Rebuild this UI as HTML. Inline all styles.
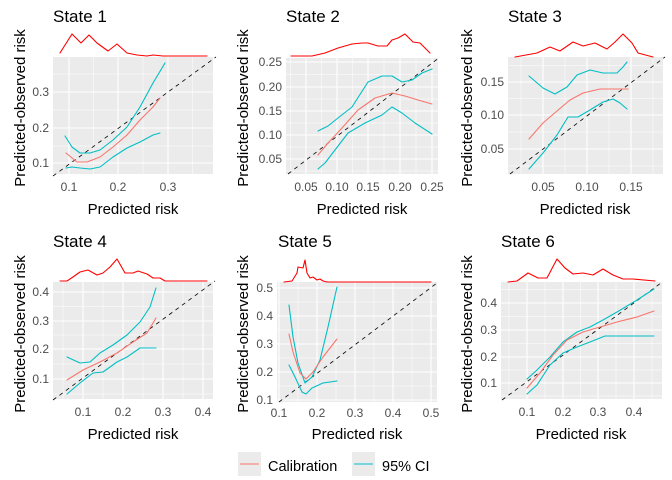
<!DOCTYPE html>
<html><head><meta charset="utf-8"><style>
body{margin:0;background:#fff}
svg{display:block;font-family:"Liberation Sans",sans-serif}
.bg{fill:#EBEBEB}
.mj{stroke:#fff;stroke-width:1.1}
.mn{stroke:#fff;stroke-width:0.5}
.tk{fill:#4D4D4D;font-size:12px}
.ty{fill:#4D4D4D;font-size:12px;text-anchor:end}
.tt{font-size:17px;fill:#000}
.ax{font-size:15px;fill:#000;text-anchor:middle}
polyline{stroke-linejoin:round;stroke-linecap:round}
.dn{fill:none;stroke:#FF0000;stroke-width:1.1}
.ci{fill:none;stroke:#00BFC4;stroke-width:1.1}
.ca{fill:none;stroke:#F8766D;stroke-width:1.1}
.dg{stroke:#000;stroke-width:0.8;stroke-dasharray:4,4}
</style></head><body>
<svg width="672" height="480" viewBox="0 0 672 480">
<!-- Panel 1 -->
<rect class="bg" x="53" y="57" width="160" height="117"/>
<g class="mn"><line x1="93.5" y1="57" x2="93.5" y2="174"/><line x1="143" y1="57" x2="143" y2="174"/><line x1="192.5" y1="57" x2="192.5" y2="174"/><line x1="53" y1="74" x2="213" y2="74"/><line x1="53" y1="110" x2="213" y2="110"/><line x1="53" y1="146" x2="213" y2="146"/></g>
<g class="mj"><line x1="69" y1="57" x2="69" y2="174"/><line x1="118" y1="57" x2="118" y2="174"/><line x1="168" y1="57" x2="168" y2="174"/><line x1="53" y1="92" x2="213" y2="92"/><line x1="53" y1="128" x2="213" y2="128"/><line x1="53" y1="163" x2="213" y2="163"/></g>
<line class="dg" x1="53" y1="176" x2="216" y2="57"/>
<polyline class="dn" points="60,53 72,34 81,43 89,35 97,43 108,51 117,44 127,53 137,55 147,56 153,55 163,56 207,56"/>
<polyline class="ci" points="65,136 72,147 80,153 90,153 100,150 113,140 127,127 140,107 153,83 165,63"/>
<polyline class="ca" points="66,153 77,162 87,162 100,157 113,147 127,135 140,120 153,107 160,98"/>
<polyline class="ci" points="66,168 72,167 80,168 90,169 100,167 113,157 127,148 140,142 153,135 160,133"/>
<g class="tk" text-anchor="middle"><text x="69" y="191">0.1</text><text x="118" y="191">0.2</text><text x="168" y="191">0.3</text></g>
<g class="ty"><text x="49" y="96">0.3</text><text x="49" y="132">0.2</text><text x="49" y="167">0.1</text></g>
<text class="tt" x="53" y="22">State 1</text>
<text class="ax" x="133" y="214">Predicted risk</text>
<text class="ax" transform="translate(25,108) rotate(-90)">Predicted-observed risk</text>

<!-- Panel 2 -->
<rect class="bg" x="286" y="58" width="152" height="116"/>
<g class="mn"><line x1="290.5" y1="58" x2="290.5" y2="174"/><line x1="321.5" y1="58" x2="321.5" y2="174"/><line x1="352.5" y1="58" x2="352.5" y2="174"/><line x1="384" y1="58" x2="384" y2="174"/><line x1="416" y1="58" x2="416" y2="174"/><line x1="286" y1="74.5" x2="438" y2="74.5"/><line x1="286" y1="99" x2="438" y2="99"/><line x1="286" y1="123" x2="438" y2="123"/><line x1="286" y1="147" x2="438" y2="147"/><line x1="286" y1="171" x2="438" y2="171"/></g>
<g class="mj"><line x1="306" y1="58" x2="306" y2="174"/><line x1="337" y1="58" x2="337" y2="174"/><line x1="368" y1="58" x2="368" y2="174"/><line x1="400" y1="58" x2="400" y2="174"/><line x1="432" y1="58" x2="432" y2="174"/><line x1="286" y1="62" x2="438" y2="62"/><line x1="286" y1="87" x2="438" y2="87"/><line x1="286" y1="111" x2="438" y2="111"/><line x1="286" y1="135" x2="438" y2="135"/><line x1="286" y1="159" x2="438" y2="159"/></g>
<line class="dg" x1="288" y1="174" x2="440" y2="57"/>
<polyline class="dn" points="291,56 312,56 325,53 338,48 352,44 362,43 368,43 378,46 387,46 392,40 398,38 405,34 413,42 420,43 430,53"/>
<polyline class="ci" points="318,131 328,126 338,118 352,107 368,82 382,76 392,76 402,82 412,80 422,73 432,69"/>
<polyline class="ca" points="318,155 328,143 342,128 358,110 375,98 392,93 405,96 418,100 432,104"/>
<polyline class="ci" points="318,169 325,163 335,150 348,133 365,123 382,115 392,107 402,113 415,123 432,134"/>
<g class="tk" text-anchor="middle"><text x="306" y="191">0.05</text><text x="337" y="191">0.10</text><text x="368" y="191">0.15</text><text x="400" y="191">0.20</text><text x="432" y="191">0.25</text></g>
<g class="ty"><text x="282" y="66">0.25</text><text x="282" y="91">0.20</text><text x="282" y="115">0.15</text><text x="282" y="139">0.10</text><text x="282" y="163">0.05</text></g>
<text class="tt" x="286" y="22">State 2</text>
<text class="ax" x="362" y="214">Predicted risk</text>
<text class="ax" transform="translate(248,108) rotate(-90)">Predicted-observed risk</text>

<!-- Panel 3 -->
<rect class="bg" x="508" y="57" width="155" height="117"/>
<g class="mn"><line x1="521" y1="57" x2="521" y2="174"/><line x1="565" y1="57" x2="565" y2="174"/><line x1="609" y1="57" x2="609" y2="174"/><line x1="653" y1="57" x2="653" y2="174"/><line x1="508" y1="65.5" x2="663" y2="65.5"/><line x1="508" y1="98.5" x2="663" y2="98.5"/><line x1="508" y1="132" x2="663" y2="132"/><line x1="508" y1="166" x2="663" y2="166"/></g>
<g class="mj"><line x1="543" y1="57" x2="543" y2="174"/><line x1="587" y1="57" x2="587" y2="174"/><line x1="631" y1="57" x2="631" y2="174"/><line x1="508" y1="82" x2="663" y2="82"/><line x1="508" y1="115" x2="663" y2="115"/><line x1="508" y1="149" x2="663" y2="149"/></g>
<line class="dg" x1="510" y1="174" x2="665" y2="57"/>
<polyline class="dn" points="515,57 537,53 550,47 560,51 573,42 583,46 595,43 607,49 615,42 623,34 632,43 638,53 653,57"/>
<polyline class="ci" points="529,76 543,88 555,94 567,87 577,75 590,70 603,73 617,73 623,67 627,62"/>
<polyline class="ca" points="529,139 543,123 557,111 570,100 583,93 600,89 617,89 628,89"/>
<polyline class="ci" points="529,169 543,153 557,135 568,117 578,117 590,110 603,102 613,99 620,103 627,109"/>
<g class="tk" text-anchor="middle"><text x="543" y="191">0.05</text><text x="587" y="191">0.10</text><text x="631" y="191">0.15</text></g>
<g class="ty"><text x="504" y="86">0.15</text><text x="504" y="119">0.10</text><text x="504" y="153">0.05</text></g>
<text class="tt" x="508" y="22">State 3</text>
<text class="ax" x="585" y="214">Predicted risk</text>
<text class="ax" transform="translate(472,108) rotate(-90)">Predicted-observed risk</text>

<!-- Panel 4 -->
<rect class="bg" x="53" y="282" width="160" height="117"/>
<g class="mn"><line x1="63" y1="282" x2="63" y2="399"/><line x1="103" y1="282" x2="103" y2="399"/><line x1="143" y1="282" x2="143" y2="399"/><line x1="183" y1="282" x2="183" y2="399"/><line x1="53" y1="306.5" x2="213" y2="306.5"/><line x1="53" y1="335" x2="213" y2="335"/><line x1="53" y1="364" x2="213" y2="364"/><line x1="53" y1="394" x2="213" y2="394"/></g>
<g class="mj"><line x1="83" y1="282" x2="83" y2="399"/><line x1="123" y1="282" x2="123" y2="399"/><line x1="163" y1="282" x2="163" y2="399"/><line x1="203" y1="282" x2="203" y2="399"/><line x1="53" y1="292" x2="213" y2="292"/><line x1="53" y1="321" x2="213" y2="321"/><line x1="53" y1="349" x2="213" y2="349"/><line x1="53" y1="379" x2="213" y2="379"/></g>
<line class="dg" x1="53" y1="400" x2="215" y2="281"/>
<polyline class="dn" points="60,281 67,281 73,277 80,272 88,270 97,275 103,273 110,267 117,259 125,273 133,273 138,271 147,274 153,278 160,278 165,281 207,281"/>
<polyline class="ci" points="67,357 80,363 90,362 100,353 113,345 127,335 140,322 150,307 156,288"/>
<polyline class="ca" points="67,380 83,370 100,362 117,353 133,342 147,333 156,318"/>
<polyline class="ci" points="67,394 80,383 93,373 103,372 117,362 127,357 140,348 156,348"/>
<g class="tk" text-anchor="middle"><text x="83" y="416">0.1</text><text x="123" y="416">0.2</text><text x="163" y="416">0.3</text><text x="203" y="416">0.4</text></g>
<g class="ty"><text x="49" y="296">0.4</text><text x="49" y="325">0.3</text><text x="49" y="353">0.2</text><text x="49" y="383">0.1</text></g>
<text class="tt" x="53" y="247">State 4</text>
<text class="ax" x="133" y="439">Predicted risk</text>
<text class="ax" transform="translate(25,334) rotate(-90)">Predicted-observed risk</text>

<!-- Panel 5 -->
<rect class="bg" x="277" y="282" width="160" height="120"/>
<g class="mn"><line x1="298" y1="282" x2="298" y2="402"/><line x1="336" y1="282" x2="336" y2="402"/><line x1="374" y1="282" x2="374" y2="402"/><line x1="412" y1="282" x2="412" y2="402"/><line x1="277" y1="302" x2="437" y2="302"/><line x1="277" y1="330" x2="437" y2="330"/><line x1="277" y1="358" x2="437" y2="358"/><line x1="277" y1="386" x2="437" y2="386"/></g>
<g class="mj"><line x1="279" y1="282" x2="279" y2="402"/><line x1="317" y1="282" x2="317" y2="402"/><line x1="355" y1="282" x2="355" y2="402"/><line x1="393" y1="282" x2="393" y2="402"/><line x1="431" y1="282" x2="431" y2="402"/><line x1="277" y1="288" x2="437" y2="288"/><line x1="277" y1="316" x2="437" y2="316"/><line x1="277" y1="344" x2="437" y2="344"/><line x1="277" y1="372" x2="437" y2="372"/><line x1="277" y1="400" x2="437" y2="400"/></g>
<line class="dg" x1="279" y1="402" x2="437" y2="283"/>
<polyline class="dn" points="284,282 292,281 297,273 298,267 303,268 305,260 307,273 310,278 313,277 317,280 320,279 323,281 327,282 431,282"/>
<polyline class="ci" points="289,305 293,337 298,363 305,383 312,377 320,360 328,327 337,287"/>
<polyline class="ca" points="289,334 293,352 300,373 306,379 313,372 323,357 337,339"/>
<polyline class="ci" points="289,365 295,377 302,392 306,394 312,388 323,383 337,381"/>
<g class="tk" text-anchor="middle"><text x="279" y="417">0.1</text><text x="317" y="417">0.2</text><text x="355" y="417">0.3</text><text x="393" y="417">0.4</text><text x="431" y="417">0.5</text></g>
<g class="ty"><text x="273" y="292">0.5</text><text x="273" y="320">0.4</text><text x="273" y="348">0.3</text><text x="273" y="376">0.2</text><text x="273" y="404">0.1</text></g>
<text class="tt" x="278" y="247">State 5</text>
<text class="ax" x="357" y="439">Predicted risk</text>
<text class="ax" transform="translate(248,334) rotate(-90)">Predicted-observed risk</text>

<!-- Panel 6 -->
<rect class="bg" x="501" y="282" width="161" height="117"/>
<g class="mn"><line x1="509" y1="282" x2="509" y2="399"/><line x1="545" y1="282" x2="545" y2="399"/><line x1="580.5" y1="282" x2="580.5" y2="399"/><line x1="616" y1="282" x2="616" y2="399"/><line x1="652" y1="282" x2="652" y2="399"/><line x1="501" y1="289.5" x2="662" y2="289.5"/><line x1="501" y1="316.5" x2="662" y2="316.5"/><line x1="501" y1="343.5" x2="662" y2="343.5"/><line x1="501" y1="370" x2="662" y2="370"/><line x1="501" y1="396" x2="662" y2="396"/></g>
<g class="mj"><line x1="527" y1="282" x2="527" y2="399"/><line x1="563" y1="282" x2="563" y2="399"/><line x1="598" y1="282" x2="598" y2="399"/><line x1="634" y1="282" x2="634" y2="399"/><line x1="501" y1="303" x2="662" y2="303"/><line x1="501" y1="330" x2="662" y2="330"/><line x1="501" y1="357" x2="662" y2="357"/><line x1="501" y1="383" x2="662" y2="383"/></g>
<line class="dg" x1="502" y1="400" x2="661" y2="283"/>
<polyline class="dn" points="508,282 517,281 528,273 538,278 547,278 557,259 565,268 573,274 583,273 593,275 603,269 613,275 623,279 633,279 655,281"/>
<polyline class="ci" points="527,379 537,370 550,357 563,342 577,332 590,327 603,320 617,312 637,300 654,289"/>
<polyline class="ca" points="527,388 540,373 553,355 567,340 583,332 600,327 617,322 637,317 654,311"/>
<polyline class="ci" points="527,394 537,385 550,365 563,353 577,347 590,342 605,336 617,336 654,336"/>
<g class="tk" text-anchor="middle"><text x="527" y="416">0.1</text><text x="563" y="416">0.2</text><text x="598" y="416">0.3</text><text x="634" y="416">0.4</text></g>
<g class="ty"><text x="497" y="307">0.4</text><text x="497" y="334">0.3</text><text x="497" y="361">0.2</text><text x="497" y="387">0.1</text></g>
<text class="tt" x="501" y="247">State 6</text>
<text class="ax" x="581" y="439">Predicted risk</text>
<text class="ax" transform="translate(472,334) rotate(-90)">Predicted-observed risk</text>

<!-- Legend -->
<rect x="238" y="452" width="23" height="24" fill="#EBEBEB"/>
<line x1="240" y1="464" x2="259" y2="464" stroke="#F8766D" stroke-width="1.1"/>
<text x="268" y="471" font-size="14.5" fill="#000">Calibration</text>
<rect x="352" y="452" width="23" height="24" fill="#EBEBEB"/>
<line x1="354" y1="464" x2="373" y2="464" stroke="#00BFC4" stroke-width="1.1"/>
<text x="382" y="471" font-size="14.5" fill="#000">95% CI</text>
</svg>
</body></html>
